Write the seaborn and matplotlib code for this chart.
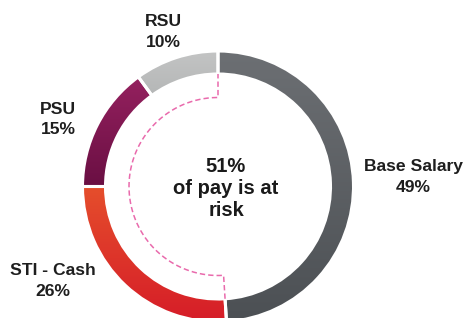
import numpy as np
import matplotlib
matplotlib.use("Agg")
import matplotlib.pyplot as plt
import seaborn as sns
from matplotlib.colors import to_rgb

# ---- data ----
categories = ["Base Salary", "STI - Cash", "PSU", "RSU"]
shares = [49, 26, 15, 10]
top_colors = ["#6c6f73", "#e54e2c", "#95215f", "#c3c4c4"]
bottom_colors = ["#4c5054", "#d61d28", "#6a0f43", "#b5b7b7"]
center_text = "51%\nof pay is at\nrisk"
# label anchor positions (pixels from top-left)
label_pos = [(413, 177), (53, 281), (58, 119.5), (163, 32)]

sns.set_theme(style="white")
plt.rcParams['font.family'] = ['Liberation Sans', 'DejaVu Sans']

W, H = 468, 318
fig = plt.figure(figsize=(W / 100, H / 100), dpi=100)
ax = fig.add_axes([0, 0, 1, 1])

cx, cy = 218, H - 186.5
R, width = 135.5, 23

wedges, _ = ax.pie(shares, startangle=90, counterclock=False, radius=R,
                   center=(cx, cy), frame=True,
                   wedgeprops=dict(width=width, edgecolor="white",
                                   linewidth=2.2, facecolor="none"))

for w, ctop, cbot in zip(wedges, top_colors, bottom_colors):
    w.set_zorder(2)
    ext = w.get_path().get_extents()
    n = 64
    t = np.linspace(0, 1, n)[:, None]
    grad = (1 - t) * np.array(to_rgb(cbot)) + t * np.array(to_rgb(ctop))
    img = ax.imshow(grad[:, None, :], extent=[ext.x0, ext.x1, ext.y0, ext.y1],
                    origin="lower", aspect="auto", zorder=1, interpolation="bilinear")
    img.set_clip_path(w)

# dashed at-risk outline
r_in = R - width
r_d = 89
frac_safe = shares[0] / sum(shares)
theta_b = 90 - 360 * frac_safe
angs = np.radians(np.linspace(theta_b, -270, 200))
xs = [cx + r_in * np.cos(angs[0])] + list(cx + r_d * np.cos(angs)) + [cx + r_in * np.cos(angs[-1])]
ys = [cy + r_in * np.sin(angs[0])] + list(cy + r_d * np.sin(angs)) + [cy + r_in * np.sin(angs[-1])]
ax.plot(xs, ys, color="#e96aac", lw=1.1, dashes=(3.5, 2), zorder=3)

for cat, val, (px, py) in zip(categories, shares, label_pos):
    ax.text(px, H - py, f"{cat}\n{val}%", ha="center", va="center",
            fontsize=12.6, fontweight="bold", color="#1e1e1e", linespacing=1.45)

ax.text(226, H - 188, center_text, ha="center", va="center", fontsize=14.5,
        fontweight="bold", color="#1a1a1a", linespacing=1.2)

ax.set_xlim(0, W)
ax.set_ylim(0, H)
ax.set_aspect("auto")
ax.axis("off")
fig.savefig("out.png", dpi=100)
